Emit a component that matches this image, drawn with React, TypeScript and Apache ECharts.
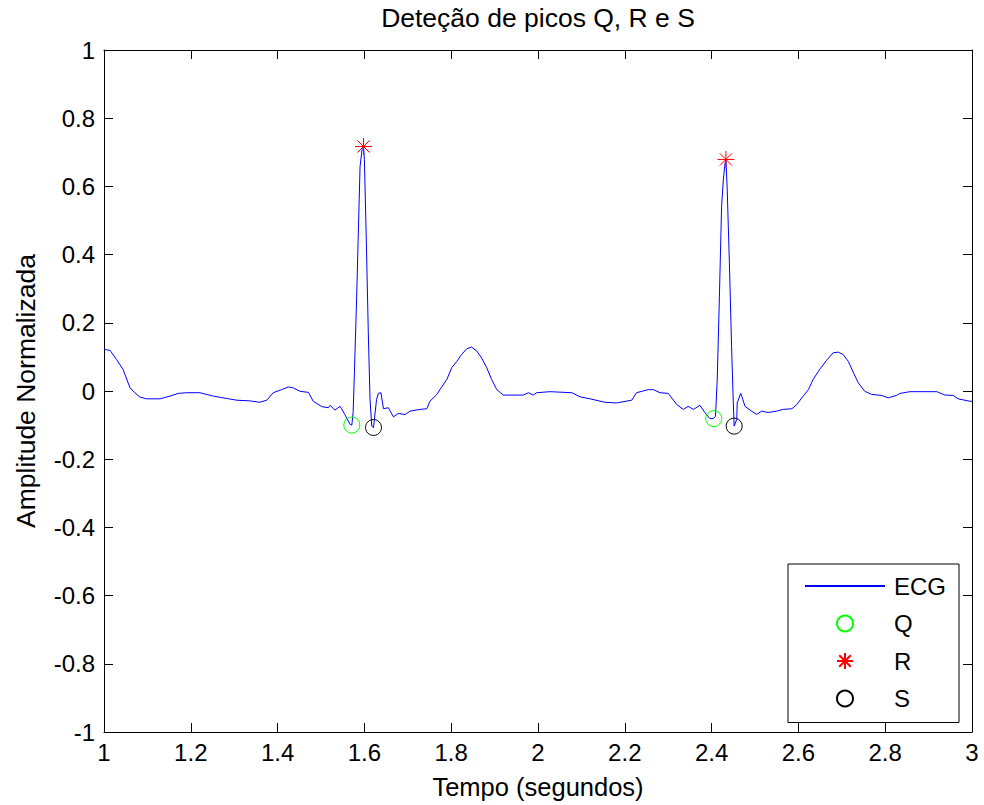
import React, { useEffect, useRef } from "react";
import * as echarts from "echarts";

// ECG trace (time in seconds, normalized amplitude)
const ecgTime = [
  1.0, 1.014, 1.029, 1.044, 1.06, 1.071, 1.083, 1.098, 1.129, 1.152,
  1.171, 1.191, 1.221, 1.252, 1.283, 1.306, 1.336, 1.359, 1.375, 1.39,
  1.409, 1.425, 1.436, 1.452, 1.471, 1.482, 1.502, 1.517, 1.521, 1.532,
  1.544, 1.555, 1.567, 1.571, 1.574, 1.577, 1.582, 1.588, 1.59, 1.595,
  1.598, 1.6, 1.604, 1.609, 1.613, 1.617, 1.621, 1.628, 1.632, 1.638,
  1.644, 1.655, 1.667, 1.678, 1.694, 1.705, 1.728, 1.744, 1.751, 1.767,
  1.774, 1.79, 1.801, 1.813, 1.824, 1.836, 1.847, 1.859, 1.87, 1.882,
  1.893, 1.905, 1.92, 1.966, 1.978, 1.989, 1.997, 2.028, 2.078, 2.097,
  2.12, 2.154, 2.181, 2.216, 2.227, 2.254, 2.266, 2.281, 2.3, 2.32,
  2.335, 2.346, 2.358, 2.373, 2.385, 2.396, 2.404, 2.409, 2.413, 2.418,
  2.423, 2.427, 2.431, 2.433, 2.436, 2.441, 2.446, 2.45, 2.452, 2.458,
  2.459, 2.467, 2.472, 2.477, 2.492, 2.504, 2.515, 2.53, 2.55, 2.565,
  2.585, 2.596, 2.611, 2.623, 2.634, 2.65, 2.665, 2.68, 2.692, 2.703,
  2.715, 2.727, 2.738, 2.753, 2.769, 2.792, 2.807, 2.826, 2.834, 2.857,
  2.919, 2.938, 2.957, 2.968, 2.995, 3.0,
];
const ecgValue = [
  0.122, 0.119, 0.092, 0.063, 0.009, -0.005, -0.018, -0.023, -0.023, -0.015,
  -0.007, -0.005, -0.005, -0.015, -0.022, -0.027, -0.029, -0.033, -0.027, -0.005,
  0.004, 0.012, 0.009, -0.001, -0.004, -0.03, -0.046, -0.049, -0.042, -0.056,
  -0.045, -0.069, -0.098, -0.1, -0.063, 0.054, 0.268, 0.561, 0.658, 0.712,
  0.717, 0.678, 0.464, 0.171, -0.025, -0.103, -0.107, -0.025, -0.007, -0.005,
  -0.052, -0.049, -0.076, -0.066, -0.069, -0.059, -0.054, -0.052, -0.03, -0.01,
  0.004, 0.034, 0.068, 0.087, 0.107, 0.124, 0.129, 0.117, 0.097, 0.068,
  0.034, 0.004, -0.012, -0.012, -0.005, -0.012, -0.005, -0.002, -0.005, -0.017,
  -0.023, -0.033, -0.035, -0.027, -0.005, 0.004, 0.004, -0.005, -0.007, -0.04,
  -0.054, -0.045, -0.054, -0.042, -0.064, -0.081, -0.081, -0.074, 0.034, 0.278,
  0.541, 0.619, 0.668, 0.679, 0.59, 0.375, 0.131, -0.035, -0.103, -0.083,
  -0.035, -0.007, -0.025, -0.045, -0.059, -0.069, -0.059, -0.063, -0.059, -0.054,
  -0.052, -0.04, -0.015, 0.004, 0.034, 0.065, 0.09, 0.112, 0.114, 0.107,
  0.087, 0.053, 0.024, -0.001, -0.01, -0.013, -0.02, -0.013, -0.007, -0.002,
  -0.002, -0.012, -0.013, -0.023, -0.03, -0.03,
];

// Detected peaks
const qTime = [1.571, 2.405];
const qValue = [-0.1, -0.081];
const rTime = [1.598, 2.433];
const rValue = [0.717, 0.679];
const sTime = [1.621, 2.452];
const sValue = [-0.107, -0.103];

const xTickStart = 1;
const xTickEnd = 3;
const xTickStep = 0.2;
const yTickStart = -1;
const yTickEnd = 1;
const yTickStep = 0.2;

const titleText = "Deteção de picos Q, R e S";
const xLabel = "Tempo (segundos)";
const yLabel = "Amplitude Normalizada";
const seriesNames = ["ECG", "Q", "R", "S"];

const FONT = "'Liberation Sans', Arial, Helvetica, sans-serif";
const STAR =
  "path://M0,-1L0,1M-1,0L1,0M-0.72,-0.72L0.72,0.72M-0.72,0.72L0.72,-0.72";

const zip = (a: number[], b: number[]) => a.map((v, i) => [v, b[i]]);

export default function App() {
  const ref = useRef<HTMLDivElement>(null);
  useEffect(() => {
    if (!ref.current) return;
    const chart = echarts.init(ref.current, undefined, { renderer: "svg" });
    const axisLine = { show: true, onZero: false, lineStyle: { color: "#000", width: 1 } };
    const tick = { show: true, inside: true, length: 9, lineStyle: { color: "#000", width: 1 } };
    chart.setOption({
      animation: false,
      backgroundColor: "#fff",
      textStyle: { fontFamily: FONT },
      title: {
        text: titleText,
        left: 538,
        top: 4,
        padding: 0,
        textAlign: "center",
        textStyle: { fontSize: 26.5, fontWeight: "normal", color: "#000", fontFamily: FONT },
      },
      grid: { left: 104, top: 50, right: 12, bottom: 72, containLabel: false },
      xAxis: [
        {
          type: "value",
          position: "bottom",
          min: xTickStart,
          max: xTickEnd,
          interval: xTickStep,
          axisLine,
          axisTick: tick,
          splitLine: { show: false },
          axisLabel: { fontSize: 24, color: "#000", margin: 8, fontFamily: FONT },
          name: xLabel,
          nameLocation: "middle",
          nameGap: 42,
          nameTextStyle: { fontSize: 25.5, color: "#000", fontFamily: FONT },
        },
        {
          type: "value",
          position: "top",
          min: xTickStart,
          max: xTickEnd,
          interval: xTickStep,
          axisLine,
          axisTick: tick,
          splitLine: { show: false },
          axisLabel: { show: false },
        },
      ],
      yAxis: [
        {
          type: "value",
          position: "left",
          min: yTickStart,
          max: yTickEnd,
          interval: yTickStep,
          axisLine,
          axisTick: tick,
          splitLine: { show: false },
          axisLabel: { fontSize: 24, color: "#000", margin: 9, fontFamily: FONT },
          name: yLabel,
          nameLocation: "middle",
          nameGap: 65,
          nameTextStyle: { fontSize: 26.5, color: "#000", fontFamily: FONT },
        },
        {
          type: "value",
          position: "right",
          min: yTickStart,
          max: yTickEnd,
          interval: yTickStep,
          axisLine,
          axisTick: tick,
          splitLine: { show: false },
          axisLabel: { show: false },
        },
      ],
      legend: {
        orient: "vertical",
        left: 788,
        top: 564,
        padding: [10, 13, 12, 16],
        itemWidth: 80,
        itemHeight: 16,
        itemGap: 13.5,
        borderColor: "#000",
        borderWidth: 1,
        backgroundColor: "#fff",
        selectedMode: false,
        textStyle: { fontSize: 24, color: "#000", fontFamily: FONT, padding: [0, 0, 0, 4] },
        data: [
          { name: seriesNames[0], itemStyle: { opacity: 0 } },
          seriesNames[1],
          seriesNames[2],
          seriesNames[3],
        ],
      },
      series: [
        {
          name: seriesNames[0],
          type: "line",
          data: zip(ecgTime, ecgValue),
          symbol: "none",
          showSymbol: false,
          lineStyle: { color: "#0000ff", width: 1 },
          itemStyle: { color: "#0000ff" },
          z: 2,
        },
        {
          name: seriesNames[1],
          type: "scatter",
          data: zip(qTime, qValue),
          symbol: "circle",
          symbolSize: 16,
          itemStyle: { color: "rgba(0,0,0,0)", borderColor: "#00ff00", borderWidth: 1, opacity: 1 },
          z: 3,
        },
        {
          name: seriesNames[2],
          type: "scatter",
          data: zip(rTime, rValue),
          symbol: STAR,
          symbolSize: 17,
          itemStyle: { color: "rgba(0,0,0,0)", borderColor: "#ff0000", borderWidth: 1, opacity: 1 },
          z: 3,
        },
        {
          name: seriesNames[3],
          type: "scatter",
          data: zip(sTime, sValue),
          symbol: "circle",
          symbolSize: 16,
          itemStyle: { color: "rgba(0,0,0,0)", borderColor: "#000000", borderWidth: 1, opacity: 1 },
          z: 3,
        },
      ],
    });
    return () => chart.dispose();
  }, []);
  return (
    <div
      ref={ref}
      style={{ position: "absolute", left: 0, top: 0, width: 984, height: 805 }}
    />
  );
}
